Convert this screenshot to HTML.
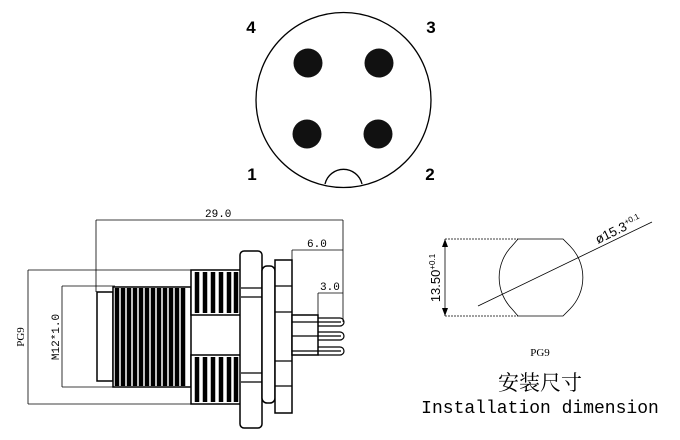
<!DOCTYPE html>
<html><head><meta charset="utf-8"><style>
html,body{margin:0;padding:0;background:#fff;width:680px;height:440px;overflow:hidden}
svg{display:block}
</style></head><body>
<svg width="680" height="440" viewBox="0 0 680 440" xmlns="http://www.w3.org/2000/svg" font-family="Liberation Sans, sans-serif">
<!-- top face -->
<circle cx="343.5" cy="100" r="87.5" fill="none" stroke="#000" stroke-width="1.3"/>
<circle cx="308" cy="63" r="14.5" fill="#111"/>
<circle cx="379" cy="63" r="14.5" fill="#111"/>
<circle cx="307" cy="134" r="14.5" fill="#111"/>
<circle cx="378" cy="134" r="14.5" fill="#111"/>
<path d="M325 184 A19 19 0 0 1 362 184" fill="#fff" stroke="#000" stroke-width="1.3"/>
<g font-weight="bold" font-size="17" text-anchor="middle">
<text x="251" y="33">4</text><text x="431" y="33">3</text>
<text x="252" y="180">1</text><text x="430" y="180">2</text>
</g>
<!-- side view dims -->
<g stroke="#000" stroke-width="0.8" fill="none">
<path d="M96 220H343M96 220V292M343 220V322"/>
<path d="M292 250H343M292 250V262"/>
<path d="M318 293H343M318 293V315"/>
<path d="M28 270H200M28 270V404M28 404H200"/>
<path d="M62 286H115M62 286V387M62 387H115"/>
</g>
<g font-family="Liberation Mono, monospace" font-size="11" fill="#000">
<text x="205" y="217">29.0</text>
<text x="307" y="247">6.0</text>
<text x="320" y="290">3.0</text>
<text transform="translate(24 337) rotate(-90)" text-anchor="middle" font-family="Liberation Serif, serif">PG9</text>
<text transform="translate(59 337) rotate(-90)" text-anchor="middle">M12*1.0</text>
</g>
<!-- body -->
<g stroke="#000" stroke-width="1.5" fill="#fff">
<rect x="97" y="292" width="16" height="89"/>
<rect x="113" y="287" width="78" height="100"/>
<rect x="191" y="270" width="50" height="45"/>
<rect x="191" y="355" width="50" height="49"/>
<rect x="240" y="251" width="22" height="177" rx="4"/>
<rect x="262" y="266" width="13" height="137" rx="5"/>
<rect x="275" y="260" width="17" height="153"/>
<rect x="292" y="315" width="26" height="40"/>
</g>
<g stroke="#000" stroke-width="4.5">
<path d="M117 288V386M123 288V386M129 288V386M135 288V386M141 288V386M147 288V386M153 288V386M159 288V386M165 288V386M171 288V386M177 288V386M183 288V386"/>
<path d="M197 272V313M205 272V313M213 272V313M221 272V313M229 272V313M236 272V313"/>
<path d="M197 357V402M205 357V402M213 357V402M221 357V402M229 357V402M236 357V402"/>
</g>
<g stroke="#000" stroke-width="1.2" fill="none">
<path d="M241 288H262M241 297H262M241 373H262M241 382H262"/>
<path d="M275 286H292M275 312H292M275 361H292M275 386H292"/>
<path d="M292 322H341M292 336H341M292 351H341"/>
<path d="M318 318H340a4 4 0 0 1 0 8H318M318 332H340a4 4 0 0 1 0 8H318M318 347H340a4 4 0 0 1 0 8H318"/>
</g>
<!-- right install dims -->
<g stroke="#000" stroke-width="0.8" fill="none">
<path d="M445 239H518M445 316H518" stroke-dasharray="2 1"/>
<path d="M445 239V316"/>
<path d="M518 239H563L570 246A45 45 0 0 1 570 309L563 316H518L512 309A45 45 0 0 1 512 246Z"/>
<path d="M478 306L652 222"/>
</g>
<path d="M445 239l-3 8h6zM445 316l-3 -8h6z" fill="#000"/>
<text transform="translate(440 278) rotate(-90)" text-anchor="middle" font-size="13">13.50<tspan font-size="8" dy="-5">+0.1</tspan></text>
<text transform="translate(598 244) rotate(-26)" font-size="13">ø15.3<tspan font-size="8" dy="-5">+0.1</tspan></text>
<text x="540" y="356" text-anchor="middle" font-family="Liberation Serif, serif" font-size="11">PG9</text>
<text x="540" y="390" text-anchor="middle" font-family="Liberation Serif, 'Noto Serif CJK SC', serif" font-size="21">安装尺寸</text>
<text x="540" y="413" text-anchor="middle" font-family="Liberation Mono, monospace" font-size="18">Installation dimension</text>
</svg>
</body></html>
